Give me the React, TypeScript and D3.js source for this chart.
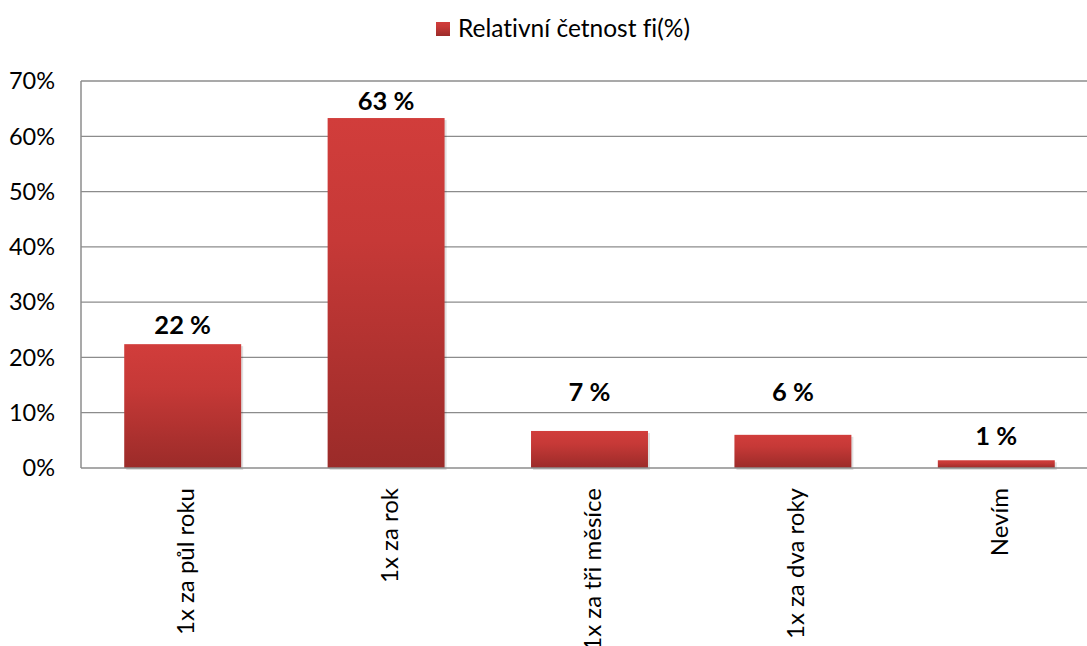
import React, { useEffect, useRef } from "react";
import * as d3 from "d3";

const categories = ["1x za půl roku", "1x za rok", "1x za tři měsíce", "1x za dva roky", "Nevím"];
const values = [22.4, 63.3, 6.7, 6.0, 1.4];
const valueLabels = ["22 %", "63 %", "7 %", "6 %", "1 %"];
const yTicks = [0, 10, 20, 30, 40, 50, 60, 70];
const seriesName = "Relativní četnost fi(%)";

const App: React.FC = () => {
  const ref = useRef<SVGSVGElement>(null);

  useEffect(() => {
    const width = 1087;
    const height = 646;
    const font = "Lato, 'Open Sans', sans-serif";
    const svg = d3.select(ref.current);
    svg.selectAll("*").remove();

    // gradient: světlejší nahoře, tmavší dole
    const defs = svg.append("defs");
    const grad = defs.append("linearGradient")
      .attr("id", "barGrad")
      .attr("x1", 0).attr("y1", 0).attr("x2", 0).attr("y2", 1);
    grad.append("stop").attr("offset", "0%").attr("stop-color", "#d13d3b");
    grad.append("stop").attr("offset", "35%").attr("stop-color", "#c63937");
    grad.append("stop").attr("offset", "100%").attr("stop-color", "#9b2b29");

    const x = d3.scaleBand<string>()
      .domain(categories)
      .range([81, 1098])
      .paddingInner(0.425)
      .paddingOuter(0.2125);

    const y = d3.scaleLinear().domain([0, 70]).range([468, 81]);

    // mřížka
    svg.append("g")
      .selectAll("line")
      .data(yTicks.filter(t => t > 0))
      .join("line")
      .attr("x1", 81).attr("x2", width)
      .attr("y1", d => y(d)).attr("y2", d => y(d))
      .attr("stroke", "#8c8c8c").attr("stroke-width", 1.3);

    // sloupce se stínem
    svg.append("g")
      .selectAll("rect")
      .data(values)
      .join("rect")
      .attr("x", (_, i) => x(categories[i])! + 2)
      .attr("y", d => y(d) + 2)
      .attr("width", x.bandwidth())
      .attr("height", d => y(0) - y(d))
      .attr("fill", "rgba(0,0,0,0.12)");

    svg.append("g")
      .selectAll("rect")
      .data(values)
      .join("rect")
      .attr("x", (_, i) => x(categories[i])!)
      .attr("y", d => y(d))
      .attr("width", x.bandwidth())
      .attr("height", d => y(0) - y(d))
      .attr("fill", "url(#barGrad)");

    // osy
    svg.append("line")
      .attr("x1", 81).attr("x2", width)
      .attr("y1", y(0)).attr("y2", y(0))
      .attr("stroke", "#8c8c8c").attr("stroke-width", 1.5);
    svg.append("line")
      .attr("x1", 81).attr("x2", 81)
      .attr("y1", y(70)).attr("y2", y(0))
      .attr("stroke", "#8c8c8c").attr("stroke-width", 1.5);

    svg.append("g")
      .selectAll("text")
      .data(yTicks)
      .join("text")
      .attr("x", 55)
      .attr("y", d => y(d))
      .attr("dy", "0.35em")
      .attr("text-anchor", "end")
      .attr("font-family", font)
      .attr("font-size", 23.5)
      .attr("fill", "#000")
      .text(d => `${d}%`);

    // popisky kategorií, otočené (třetí je v originále oříznutý spodním okrajem)
    svg.append("g")
      .selectAll("text")
      .data(categories)
      .join("text")
      .attr("transform", d => `translate(${x(d)! + x.bandwidth() / 2 + 3},488) rotate(-90)`)
      .attr("text-anchor", "end")
      .attr("dy", "0.35em")
      .attr("font-family", font)
      .attr("font-size", 24)
      .attr("fill", "#000")
      .text(d => d);

    // hodnoty nad sloupci (u malých sloupců výš, jako v originále)
    const lift = [10, 8, 30, 34, 15];
    svg.append("g")
      .selectAll("text")
      .data(values)
      .join("text")
      .attr("x", (_, i) => x(categories[i])! + x.bandwidth() / 2)
      .attr("y", (d, i) => y(d) - lift[i])
      .attr("text-anchor", "middle")
      .attr("font-family", font)
      .attr("font-size", 25.5)
      .attr("font-weight", "bold")
      .attr("fill", "#000")
      .text((_, i) => valueLabels[i]);

    // legenda
    svg.append("rect")
      .attr("x", 436).attr("y", 22).attr("width", 14).attr("height", 14)
      .attr("fill", "url(#barGrad)");
    svg.append("text")
      .attr("x", 458).attr("y", 37)
      .attr("font-family", font)
      .attr("font-size", 24.5)
      .style("font-variant-ligatures", "none")
      .attr("fill", "#000")
      .text(seriesName);

    svg.attr("width", width).attr("height", height);
  }, []);

  return (
    <svg
      ref={ref}
      width={1087}
      height={646}
      style={{ position: "absolute", left: 0, top: 0, background: "#fff", overflow: "hidden" }}
    />
  );
};

export default App;
